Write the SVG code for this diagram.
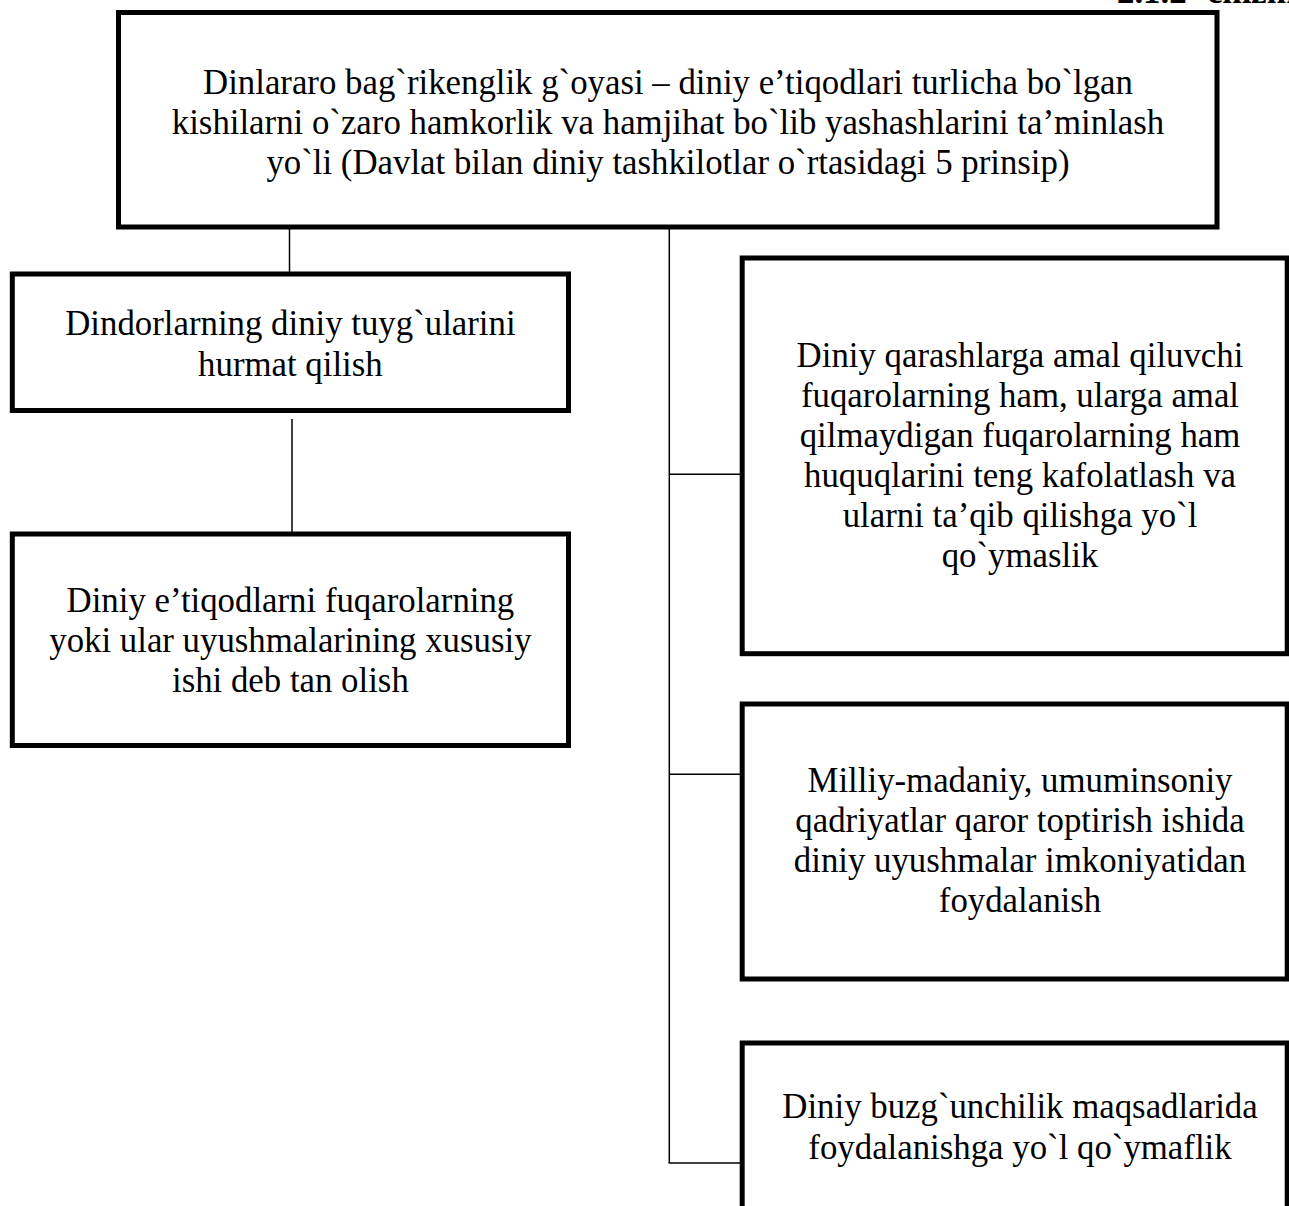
<svg xmlns="http://www.w3.org/2000/svg" width="1289" height="1206" viewBox="0 0 1289 1206">
<style>
.box{fill:#fff;stroke:#000;stroke-width:5}
.ln{fill:none;stroke:#000;stroke-width:1.5}
text{font-family:"Liberation Serif","Times New Roman",serif;font-size:34.8px;fill:#000;text-anchor:middle}
.hd{font-weight:bold;text-anchor:start}
</style>
<rect x="0" y="0" width="1289" height="1206" fill="#fff"/>
<text class="hd" x="1117" y="2.5">2.1.2 -chizma</text>
<g id="connectors">
<line class="ln" x1="289.5" y1="229" x2="289.5" y2="273"/>
<line class="ln" x1="292" y1="419" x2="292" y2="534"/>
<line class="ln" x1="669.3" y1="222" x2="669.3" y2="1163"/>
<line class="ln" x1="669.3" y1="474.3" x2="740" y2="474.3"/>
<line class="ln" x1="669.3" y1="774.3" x2="740" y2="774.3"/>
<line class="ln" x1="668.5" y1="1163" x2="740" y2="1163"/>
</g>
<g id="node-top">
<rect class="box" x="118.5" y="12.5" width="1098.5" height="214.5"/>
<text x="668" y="94">Dinlararo bag`rikenglik g`oyasi – diniy e’tiqodlari turlicha bo`lgan</text>
<text x="668" y="134">kishilarni o`zaro hamkorlik va hamjihat bo`lib yashashlarini ta’minlash</text>
<text x="668" y="174">yo`li (Davlat bilan diniy tashkilotlar o`rtasidagi 5 prinsip)</text>
</g>
<g id="node-left1">
<rect class="box" x="12.3" y="274" width="556.2" height="136.5"/>
<text x="290.4" y="335">Dindorlarning diniy tuyg`ularini</text>
<text x="290.4" y="376">hurmat qilish</text>
</g>
<g id="node-left2">
<rect class="box" x="12.3" y="534" width="556.2" height="211.5"/>
<text x="290.4" y="612">Diniy e’tiqodlarni fuqarolarning</text>
<text x="290.4" y="652">yoki ular uyushmalarining xususiy</text>
<text x="290.4" y="692">ishi deb tan olish</text>
</g>
<g id="node-right1">
<rect class="box" x="742.2" y="258" width="545" height="395.7"/>
<text x="1020" y="367">Diniy qarashlarga amal qiluvchi</text>
<text x="1020" y="407">fuqarolarning ham, ularga amal</text>
<text x="1020" y="447">qilmaydigan fuqarolarning ham</text>
<text x="1020" y="487">huquqlarini teng kafolatlash va</text>
<text x="1020" y="527">ularni ta’qib qilishga yo`l</text>
<text x="1020" y="567">qo`ymaslik</text>
</g>
<g id="node-right2">
<rect class="box" x="742.2" y="704" width="545" height="275"/>
<text x="1020" y="792">Milliy-madaniy, umuminsoniy</text>
<text x="1020" y="832">qadriyatlar qaror toptirish ishida</text>
<text x="1020" y="872">diniy uyushmalar imkoniyatidan</text>
<text x="1020" y="912">foydalanish</text>
</g>
<g id="node-right3">
<rect class="box" x="742.2" y="1043" width="545" height="200"/>
<text x="1020" y="1118">Diniy buzg`unchilik maqsadlarida</text>
<text x="1020" y="1159">foydalanishga yo`l qo`ymaflik</text>
</g>
</svg>
